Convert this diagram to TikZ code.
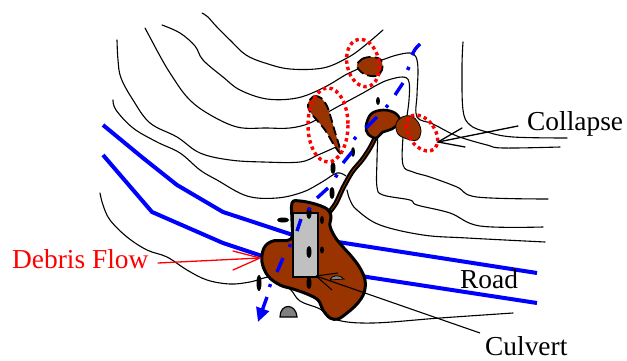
\documentclass[tikz,border=0pt]{standalone}
\usepackage{fontspec}
\setmainfont{Liberation Serif}
\usetikzlibrary{arrows.meta}
\definecolor{mud}{RGB}{153,51,0}
\definecolor{pipegrey}{RGB}{192,192,192}
\definecolor{stonegrey}{RGB}{128,128,128}
\begin{document}
\begin{tikzpicture}[x=1pt,y=-1pt,
  contour/.style={line width=1.1pt, line join=round, line cap=round},
  road/.style={blue, line width=4pt, line join=round},
  scarp/.style={red, line width=3.4pt, dash pattern=on 3.4pt off 3.2pt},
  mudpatch/.style={fill=mud, line join=round},
  patchedge/.style={fill=mud, line width=1.8pt, dash pattern=on 9pt off 4pt},
  stream/.style={blue, line width=3.4pt},
  rock/.style={fill=black},
  label/.style={font=\fontsize{27.4}{30}\selectfont, inner sep=0pt, anchor=base west},
  pointer/.style={line width=1.3pt, line join=miter, line cap=round}
]
\useasboundingbox (0,0) rectangle (627,361);

% contour lines, left flank
\draw[contour] plot[smooth, tension=0.6] coordinates {(202,13) (208,17) (216,26) (231,41) (246,55) (265,63) (290,69) (323,68) (347,58) (363,47) (383,30)};
\draw[contour] plot[smooth, tension=0.6] coordinates {(162,25) (180,33) (195,46) (203,60) (223,77) (240,90) (267,99) (297,98) (323,88) (347,74) (360,68) (382,60) (397,55) (410,53) (416,57) (418,70) (417,95) (417,117) (433,124) (457,136) (487,145) (503,148) (560,147)};
\draw[contour] plot[smooth, tension=0.6] coordinates {(145,28) (153,43) (160,56) (170,73) (187,97) (207,113) (237,127) (267,128) (290,128) (310,123) (330,111) (350,100) (363,93) (377,85) (388,80) (403,77) (409,82) (409,100) (406,122) (403,137) (403,165) (413,172) (430,177) (457,187) (477,197) (548,199)};
\draw[contour] plot[smooth, tension=0.6] coordinates {(117,40) (118,60) (121,78) (133,100) (150,123) (177,137) (200,153) (230,160) (263,162) (300,162) (318,155) (336,147)};
\draw[contour] plot[smooth, tension=0.6] coordinates {(113,100) (116,110) (133,128) (157,142) (180,153) (200,170) (217,180) (247,196) (277,198) (303,192) (322,182) (337,173) (346,176)};
\draw[contour] plot[smooth, tension=0.6] coordinates {(100,193) (103,205) (110,220) (127,237) (147,250) (167,257) (187,270) (207,280) (230,284) (250,282) (273,277) (290,289) (300,301) (320,309) (337,320) (373,323) (440,318) (513,313)};

% contour lines, right flank
\draw[contour] plot[smooth, tension=0.6] coordinates {(463,42) (462,67) (463,110) (470,125) (487,132) (513,137) (567,138)};
\draw[contour] plot[smooth, tension=0.6] coordinates {(378,130) (377,160) (377,187) (383,195) (410,200) (417,205) (450,213) (480,226) (543,227)};
\draw[contour] plot[smooth, tension=0.6] coordinates {(347,190) (350,200) (357,210) (380,225) (423,235) (467,238) (545,242)};

% road edges
\draw[road] (103,125) -- (143,158) -- (177,185) -- (223,212) -- (293,235) -- (537,273);
\draw[road] (103,155) -- (152,212) -- (223,243) -- (262,256) -- (367,277) -- (537,303);

% incised channel
\draw[line width=5pt, line cap=round, line join=round] plot[smooth] coordinates {(378,132) (370,148) (362,160) (352,172) (343,188) (336,203) (328,214)};
\draw[line width=0.8pt, mud, line cap=round, line join=round] plot[smooth] coordinates {(375,138) (370,148) (362,160) (352,172) (343,188) (336,203) (331,210)};

% debris fan at the road crossing
\draw[mudpatch, line width=3pt] plot[smooth cycle, tension=0.6] coordinates {(292,203) (300,201) (315,204) (327,209) (331,216) (330,226) (335,237) (343,247) (352,257) (360,268) (365,280) (364,293) (357,304) (347,313) (338,319) (330,318) (323,310) (318,300) (307,294) (293,289) (280,285) (268,276) (262,262) (264,248) (273,241) (291,239) (292,222)};

% culvert
\draw[fill=pipegrey, line width=2.6pt] (293,213) rectangle (318,277);
\coordinate (cv) at (316,276);
\draw[line width=1pt] (cv) -- (338,273);
\draw[line width=1pt] (cv) -- (332,290);

% boulders
\fill[rock] (283,220) ellipse [x radius=6, y radius=2.5];
\fill[rock] (259,283) ellipse [x radius=2.5, y radius=8];
\fill[rock] (309,213) ellipse [x radius=2.5, y radius=6];
\fill[rock] (322,220) ellipse [x radius=2, y radius=4];
\fill[rock] (309,252) ellipse [x radius=2.5, y radius=6];
\fill[rock] (322,250) ellipse [x radius=2, y radius=3.5];
\fill[rock] (309,283) ellipse [x radius=2.5, y radius=6];
\fill[rock] (378,101) ellipse [x radius=2, y radius=4];
\fill[rock] (353,152) ellipse [x radius=2, y radius=5];
\fill[rock] (333,168) ellipse [x radius=2.5, y radius=6];
\fill[rock] (332,193) ellipse [x radius=2.5, y radius=6];
\draw[fill=stonegrey, line width=0.8pt] (330,280) .. controls (331,275) and (340,274) .. (344,279) -- cycle;
\draw[fill=stonegrey, line width=1.2pt] (280,317) .. controls (280,303) and (296,303) .. (297,317) -- cycle;

% channel head
\draw[mudpatch, line width=2.6pt] plot[smooth cycle, tension=0.6] coordinates {(366,126) (371,114) (383,110) (395,113) (400,121) (392,129) (383,132) (376,138) (368,134)};

% slope failures
\draw[mudpatch, line width=0.8pt] plot[smooth cycle, tension=0.6] coordinates {(396,124) (402,117) (411,116) (418,122) (421,132) (417,140) (407,139) (398,134)};
\draw[patchedge] plot[smooth cycle, tension=0.6] coordinates {(357,66) (362,59) (372,57) (381,60) (382,70) (376,76) (364,74)};
\draw[patchedge] plot[smooth cycle, tension=0.5] coordinates {(308,103) (314,96) (321,98) (327,106) (331,118) (335,132) (339,145) (340,153) (334,145) (325,130) (315,118) (309,110)};

% scarps around the failures
\draw[scarp, rotate around={12:(363,63)}] (363,63) ellipse [x radius=16, y radius=24];
\draw[scarp] (328,125) ellipse [x radius=20, y radius=37];
\draw[scarp, rotate around={35:(422,133)}] (422,133) ellipse [x radius=13, y radius=20];

% stream course
\draw[stream] (412,55) .. controls (415,49) .. (420,44);
\draw[stream] (409,67) -- (407.5,70);
\draw[stream] (395,95) -- (403,83);
\draw[stream] (388,105) -- (386,107.5);
\draw[stream] (366,128) -- (377,117);
\draw[stream] (356,137) -- (354,139.5);
\draw[stream] (343,163) -- (352,152);
\draw[stream] (337,174.5) -- (335.5,177.5);
\draw[stream] (317,198) -- (328,188);
\draw[stream] (310,207.5) -- (308.5,210.5);
\draw[stream] (297,231) -- (301,219);
\draw[stream] (290.5,244) -- (289.5,247);
\draw[stream] (277,272) -- (283,258);
\draw[stream] (270.5,284) -- (269.5,287);
\draw[stream, -{Triangle[length=14pt,width=13pt]}] (267,297) -- (258,322);

% labels
\node[label, text=red] (debris) at (12,268) {Debris Flow};
\node[label] (collapse) at (527,131) {Collapse};
\node[label] (road) at (460,288) {Road};
\node[label] (culvert) at (485,355) {Culvert};

% pointers with open barbed heads
\coordinate (dfTail) at (158,263);
\coordinate (dfTip) at (260,258);
\coordinate (dfBarbA) at (233,251);
\coordinate (dfBarbB) at (233,270);
\coordinate (clTail) at (518,126);
\coordinate (clTip) at (438,142);
\coordinate (clBarbA) at (462,128);
\coordinate (clBarbB) at (465,147);
\coordinate (cuTail) at (480,333);
\draw[pointer, red] (dfTail) -- (dfTip);
\draw[pointer, red] (dfBarbA) -- (dfTip) -- (dfBarbB);
\draw[pointer] (clTail) -- (clTip);
\draw[pointer] (clBarbA) -- (clTip) -- (clBarbB);
\draw[line width=1.1pt] (cuTail) -- (cv);
\end{tikzpicture}
\end{document}
